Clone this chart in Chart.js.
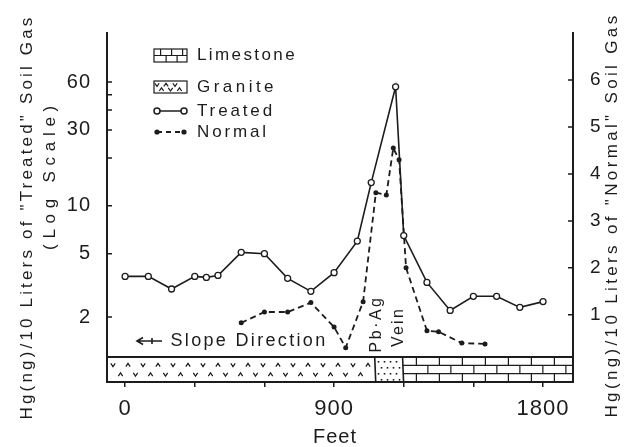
<!DOCTYPE html>
<html>
<head>
<meta charset="utf-8">
<script src="https://cdn.jsdelivr.net/npm/chart.js@4"></script>
<style>
  html, body { margin: 0; padding: 0; background: #fff; }
  #wrap { width: 628px; height: 447px; }
</style>
</head>
<body>
<div id="wrap"><canvas id="myChart" width="628" height="447"></canvas></div>
<script>
// distance along the traverse (feet) and Hg readings
const treatedFeet = [0, 100, 200, 300, 350, 400, 500, 600, 700, 800, 900, 1000, 1060, 1165, 1200, 1300, 1400, 1500, 1600, 1700, 1800];
const treatedHg = [3.6, 3.6, 3.0, 3.6, 3.55, 3.65, 5.1, 5.0, 3.5, 2.9, 3.8, 6.0, 14, 56, 6.5, 3.3, 2.2, 2.7, 2.7, 2.3, 2.5];
const normalFeet = [500, 600, 700, 800, 900, 950, 1025, 1080, 1125, 1155, 1180, 1210, 1300, 1350, 1450, 1550];
const normalHg = [0.83, 1.06, 1.06, 1.26, 0.74, 0.3, 1.28, 3.6, 3.55, 4.55, 4.3, 2.0, 0.66, 0.64, 0.4, 0.38];

// axis ticks
const feetTicks = [0, 300, 600, 900, 1200, 1500, 1800];
const feetLabeled = [0, 900, 1800];
const treatedTicks = [2, 5, 10, 20, 30, 40, 50, 60];
const treatedLabeled = [2, 5, 10, 30, 60];
const normalTicks = [1, 2, 3, 4, 5, 6];

// rock units in the strip under the profile (feet)
const geoUnits = ["granite", "vein", "limestone"];
const geoFrom = [-100, 1075, 1195];
const geoTo = [1075, 1195, 2000];

const ink = "#1c1c1c";
const family = "'Liberation Sans', Arial, sans-serif";

// draws text stretched to a given width (the scan is widely spaced)
function spaced(ctx, text, cx, cy, size, width, angle) {
  ctx.save();
  ctx.translate(cx, cy);
  if (angle) ctx.rotate(angle);
  ctx.font = size + "px " + family;
  ctx.letterSpacing = "0px";
  const w0 = ctx.measureText(text).width;
  const ls = (width - w0) / text.length;
  ctx.letterSpacing = ls + "px";
  ctx.fillStyle = ink;
  ctx.textAlign = "left";
  ctx.textBaseline = "middle";
  ctx.fillText(text, -width / 2, 0);
  ctx.restore();
}

function bricks(ctx, x0, y0, x1, y1, rows, bw) {
  const h = (y1 - y0) / rows;
  ctx.beginPath();
  for (let r = 0; r < rows; r++) {
    const yt = y0 + r * h;
    if (r > 0) { ctx.moveTo(x0, yt); ctx.lineTo(x1, yt); }
    const off = r % 2 ? bw / 2 : 0;
    for (let x = x0 + off + bw * 0.6; x < x1; x += bw) {
      ctx.moveTo(x, yt); ctx.lineTo(x, yt + h);
    }
  }
  ctx.stroke();
}

function granite(ctx, x0, y0, x1, y1, step) {
  const rowsY = [y0 + (y1 - y0) * 0.32, y0 + (y1 - y0) * 0.7];
  ctx.beginPath();
  rowsY.forEach((yy, r) => {
    let k = r;
    for (let x = x0 + 6 + r * step / 2; x < x1 - 3; x += step) {
      const up = k % 2 === 1;
      const d = up ? -1.6 : 1.6;
      ctx.moveTo(x - 2.2, yy - d); ctx.lineTo(x, yy + d); ctx.lineTo(x + 2.2, yy - d);
      k++;
    }
  });
  ctx.stroke();
}

function dots(ctx, x0, y0, x1, y1) {
  ctx.fillStyle = ink;
  let r = 0;
  for (let y = y0 + 4; y < y1 - 2; y += 6, r++) {
    for (let x = x0 + 3 + (r % 2) * 3; x < x1 - 1; x += 6) {
      ctx.fillRect(x, y, 1.6, 1.6);
    }
  }
}

const geoPlugin = {
  id: "geo",
  beforeLayout(chart) {
    chart.ctx.letterSpacing = "1px";
  },
  beforeDatasetsDraw(chart) {
    const { ctx, chartArea: a, scales } = chart;
    const x = scales.x;
    const top = a.bottom - 25, bot = a.bottom;
    ctx.save();
    ctx.letterSpacing = "0px";
    ctx.strokeStyle = ink;
    ctx.lineWidth = 1.2;
    geoUnits.forEach((u, i) => {
      const x0 = x.getPixelForValue(Math.max(geoFrom[i], x.min));
      const x1 = x.getPixelForValue(Math.min(geoTo[i], x.max));
      ctx.save();
      ctx.beginPath();
      ctx.rect(x0, top, x1 - x0, bot - top);
      ctx.clip();
      if (u === "granite") granite(ctx, x0, top, x1, bot, 15);
      if (u === "vein") dots(ctx, x0, top, x1, bot);
      if (u === "limestone") bricks(ctx, x0, top, x1, bot, 3, 23);
      ctx.restore();
      if (i > 0) {
        ctx.lineWidth = 1.6;
        ctx.beginPath();
        ctx.moveTo(x0, top); ctx.lineTo(x0 + 1, bot);
        ctx.stroke();
        ctx.lineWidth = 1.2;
      }
    });
    ctx.lineWidth = 1.8;
    ctx.beginPath();
    ctx.moveTo(a.left, top); ctx.lineTo(a.right, top);
    ctx.stroke();
    ctx.restore();
  },
  afterDraw(chart) {
    const { ctx, chartArea: a, scales } = chart;
    ctx.save();
    ctx.letterSpacing = "0px";
    ctx.strokeStyle = ink;
    ctx.lineWidth = 1.5;
    // inward tick marks on both value axes
    ctx.beginPath();
    treatedTicks.forEach(v => {
      const py = scales.y.getPixelForValue(v);
      ctx.moveTo(a.left, py); ctx.lineTo(a.left + 5, py);
    });
    normalTicks.forEach(v => {
      const py = scales.y2.getPixelForValue(v);
      ctx.moveTo(a.right, py); ctx.lineTo(a.right - 5, py);
    });
    ctx.stroke();

    // legend
    const lx0 = 154, lx1 = 187;
    ctx.lineWidth = 1.2;
    ctx.strokeRect(lx0, 49, lx1 - lx0, 13);
    bricks(ctx, lx0, 49, lx1, 62, 2, 11);
    ctx.strokeRect(lx0, 81, lx1 - lx0, 12);
    granite(ctx, lx0 - 3, 81, lx1, 93, 9);
    ctx.lineWidth = 1.5;
    ctx.beginPath();
    ctx.moveTo(lx0 + 3, 111); ctx.lineTo(lx1 - 3, 111);
    ctx.stroke();
    [lx0 + 3, lx1 - 3].forEach(cx => {
      ctx.beginPath();
      ctx.arc(cx, 111, 3, 0, Math.PI * 2);
      ctx.fillStyle = "#fff"; ctx.fill(); ctx.stroke();
    });
    ctx.setLineDash([5, 4]);
    ctx.lineWidth = 1.8;
    ctx.beginPath();
    ctx.moveTo(lx0 + 3, 132); ctx.lineTo(lx1 - 3, 132);
    ctx.stroke();
    ctx.setLineDash([]);
    [lx0 + 3, lx1 - 3].forEach(cx => {
      ctx.beginPath();
      ctx.arc(cx, 132, 2.6, 0, Math.PI * 2);
      ctx.fillStyle = ink; ctx.fill();
    });
    ctx.restore();

    spaced(ctx, "Limestone", 247, 55, 17, 100);
    spaced(ctx, "Granite", 237, 87, 17, 80);
    spaced(ctx, "Treated", 236, 111, 17, 78);
    spaced(ctx, "Normal", 233, 132, 17, 72);

    // slope arrow
    ctx.save();
    ctx.strokeStyle = ink;
    ctx.lineWidth = 1.6;
    ctx.beginPath();
    ctx.moveTo(137, 341); ctx.lineTo(162, 341);
    ctx.moveTo(143, 337.5); ctx.lineTo(137, 341); ctx.lineTo(143, 344.5);
    ctx.moveTo(152, 338); ctx.lineTo(152, 344);
    ctx.stroke();
    ctx.restore();
    spaced(ctx, "Slope Direction", 249, 341, 18, 157);

    spaced(ctx, "Pb·Ag", 377, 324, 16, 57, -Math.PI / 2);
    spaced(ctx, "Vein", 399, 327, 16, 40, -Math.PI / 2);

    // axis titles
    spaced(ctx, "Hg(ng)/10 Liters of \"Treated\" Soil Gas", 27, 217, 17, 405, -Math.PI / 2);
    spaced(ctx, "(Log Scale)", 50, 175, 17, 150, -Math.PI / 2);
    spaced(ctx, "Hg(ng)/10 Liters of \"Normal\" Soil Gas", 612, 215, 17, 405, -Math.PI / 2);
    spaced(ctx, "Feet", 335, 437, 20, 44);
  }
};

const ctx = document.getElementById("myChart").getContext("2d");

const data = {
  datasets: [
    {
      label: "Treated",
      data: treatedFeet.map((f, i) => ({ x: f, y: treatedHg[i] })),
      yAxisID: "y",
      borderColor: ink,
      borderWidth: 1.6,
      pointRadius: 3,
      pointBackgroundColor: "#fff",
      pointBorderColor: ink,
      pointBorderWidth: 1.3,
      tension: 0,
    },
    {
      label: "Normal",
      data: normalFeet.map((f, i) => ({ x: f, y: normalHg[i] })),
      yAxisID: "y2",
      borderColor: ink,
      borderWidth: 1.8,
      borderDash: [6, 4],
      pointRadius: 2.5,
      pointBackgroundColor: ink,
      pointBorderColor: ink,
      pointBorderWidth: 0,
      tension: 0,
    },
  ],
};

const config = {
  type: "line",
  data: data,
  options: {
    responsive: false,
    animation: false,
    devicePixelRatio: 1,
    layout: { padding: { top: 33, left: 0, right: 0, bottom: 0 } },
    plugins: { legend: { display: false }, tooltip: { enabled: false } },
    scales: {
      x: {
        type: "linear",
        min: -78,
        max: 1929,
        afterBuildTicks: (s) => { s.ticks = feetTicks.map(v => ({ value: v })); },
        afterFit: (s) => { s.height = 65; },
        grid: { drawOnChartArea: false, drawTicks: true, tickLength: 5, color: ink, lineWidth: 1.5 },
        border: { display: true, color: ink, width: 2 },
        ticks: {
          autoSkip: false, maxRotation: 0, padding: 9, color: ink,
          font: { family: family, size: 22 },
          callback: (v) => feetLabeled.includes(v) ? String(v) : "",
        },
      },
      y: {
        type: "logarithmic",
        position: "left",
        min: 0.781,
        max: 122,
        afterBuildTicks: (s) => { s.ticks = treatedTicks.map(v => ({ value: v })); },
        afterFit: (s) => { s.width = 107; },
        grid: { display: false },
        border: { display: true, color: ink, width: 2 },
        ticks: {
          autoSkip: false, padding: 8, color: ink,
          font: { family: family, size: 20 },
          callback: (v) => treatedLabeled.includes(v) ? String(v) : "",
        },
      },
      y2: {
        type: "linear",
        position: "right",
        min: -0.43,
        max: 7.0,
        afterBuildTicks: (s) => { s.ticks = normalTicks.map(v => ({ value: v })); },
        afterFit: (s) => { s.width = 55; },
        grid: { display: false },
        border: { display: true, color: ink, width: 2 },
        ticks: {
          autoSkip: false, padding: 9, color: ink,
          font: { family: family, size: 19 },
        },
      },
    },
  },
  plugins: [geoPlugin],
};

const myChart = new Chart(ctx, config);
</script>
</body>
</html>
